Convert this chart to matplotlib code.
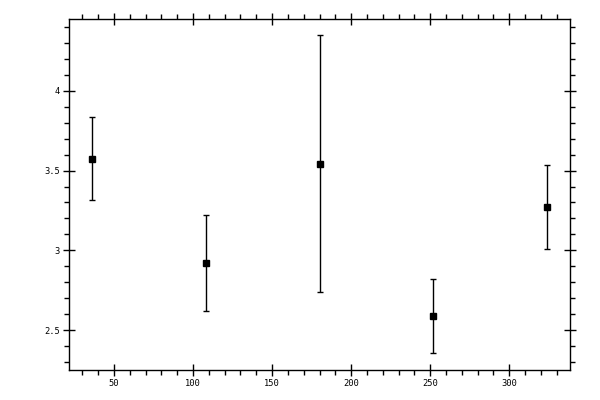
import numpy as np
import matplotlib
matplotlib.use("Agg")
import matplotlib.pyplot as plt
from matplotlib.ticker import MultipleLocator

# values
x = [36, 108, 180, 252, 324]
y = [3.575, 2.922, 3.544, 2.588, 3.273]
err = [0.262, 0.300, 0.808, 0.232, 0.265]

fig = plt.figure(figsize=(6, 4), dpi=100)
ax = fig.add_axes([0.115, 0.075, 0.835, 0.8775])

ax.errorbar(x, y, yerr=err, fmt='s', color='black', ms=5,
            elinewidth=1.0, capsize=1.9, capthick=1.0)

ax.set_xlim(21.6, 338.4)
ax.set_ylim(2.25, 4.45)

ax.xaxis.set_major_locator(MultipleLocator(50))
ax.xaxis.set_minor_locator(MultipleLocator(10))
ax.yaxis.set_major_locator(MultipleLocator(0.5))
ax.yaxis.set_minor_locator(MultipleLocator(0.1))
ax.xaxis.set_major_formatter(plt.FuncFormatter(lambda v, p: f"{v:g}"))
ax.yaxis.set_major_formatter(plt.FuncFormatter(lambda v, p: f"{v:g}"))

for s in ax.spines.values():
    s.set_linewidth(1.0)

ax.tick_params(which='major', direction='inout', length=9, width=1.0,
               top=True, right=True, labelsize=6.3, pad=2)
ax.tick_params(which='minor', direction='out', length=3.5, width=1.0,
               top=True, right=True)
for lab in ax.get_xticklabels() + ax.get_yticklabels():
    lab.set_family('DejaVu Sans Mono')

fig.savefig("out.png", dpi=100)
